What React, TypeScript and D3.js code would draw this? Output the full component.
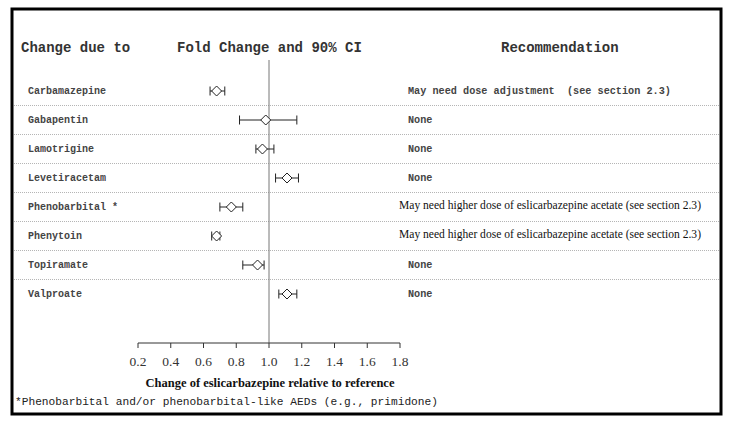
import React from "react";
import * as d3 from "d3";

const drugs = ["Carbamazepine", "Gabapentin", "Lamotrigine", "Levetiracetam", "Phenobarbital *", "Phenytoin", "Topiramate", "Valproate"];
const estimates = [0.68, 0.98, 0.96, 1.11, 0.77, 0.68, 0.93, 1.11];
const lowers = [0.64, 0.82, 0.92, 1.04, 0.70, 0.65, 0.84, 1.06];
const uppers = [0.73, 1.17, 1.03, 1.18, 0.84, 0.70, 0.97, 1.17];
const recommendations = [
  "May need dose adjustment  (see section 2.3)",
  "None",
  "None",
  "None",
  "May need higher dose of eslicarbazepine acetate (see section 2.3)",
  "May need higher dose of eslicarbazepine acetate (see section 2.3)",
  "None",
  "None",
];
const recSerif = [false, false, false, false, true, true, false, false];
const tickValues = [0.2, 0.4, 0.6, 0.8, 1.0, 1.2, 1.4, 1.6, 1.8];

const MONO = "'Liberation Mono', 'Courier New', monospace";
const SERIF = "'Liberation Serif', 'Times New Roman', serif";

export default function App() {
  const x = d3.scaleLinear().domain([0.2, 1.8]).range([138, 400]);
  const y = d3.scalePoint<string>().domain(drugs).range([91, 294]);
  const axisY = 343;
  const step = y.step();

  return (
    <svg width={732} height={426} style={{ position: "absolute", left: 0, top: 0, background: "#fff" }}>
      <rect x={0} y={0} width={732} height={426} fill="#fff" />
      <rect x={12} y={9} width={709} height={405} fill="none" stroke="#000" strokeWidth={3} />

      {/* headers */}
      <text x={21} y={52} fontFamily={MONO} fontSize={14} fontWeight="bold" fill="#333">Change due to</text>
      <text x={177} y={52} fontFamily={MONO} fontSize={14} fontWeight="bold" fill="#333">Fold Change and 90% CI</text>
      <text x={501} y={52} fontFamily={MONO} fontSize={14} fontWeight="bold" fill="#333">Recommendation</text>

      {/* separators */}
      {drugs.slice(0, -1).map((d) => (
        <line key={"s" + d} x1={14} x2={719} y1={(y(d) as number) + step / 2} y2={(y(d) as number) + step / 2}
          stroke="#b5b5b5" strokeWidth={1} strokeDasharray="1,1" />
      ))}

      {/* reference line */}
      <line x1={x(1)} x2={x(1)} y1={60} y2={axisY} stroke="#777" strokeWidth={1} />

      {/* rows */}
      {drugs.map((d, i) => {
        const cy = y(d) as number;
        const cx = x(estimates[i]);
        return (
          <g key={d}>
            <text x={28} y={cy + 3} fontFamily={MONO} fontSize={10} fontWeight="bold" fill="#444">{d}</text>
            <line x1={x(lowers[i])} x2={x(uppers[i])} y1={cy} y2={cy} stroke="#222" strokeWidth={1} />
            <line x1={x(lowers[i])} x2={x(lowers[i])} y1={cy - 4.5} y2={cy + 4.5} stroke="#222" strokeWidth={1} />
            <line x1={x(uppers[i])} x2={x(uppers[i])} y1={cy - 4.5} y2={cy + 4.5} stroke="#222" strokeWidth={1} />
            <path d={`M${cx - 5},${cy} L${cx},${cy - 5} L${cx + 5},${cy} L${cx},${cy + 5} Z`} fill="#fff" stroke="#222" strokeWidth={1} />
            {recSerif[i] ? (
              <text x={399} y={cy + 2} fontFamily={SERIF} fontSize={12} fill="#111" textLength={302} lengthAdjust="spacingAndGlyphs">{recommendations[i]}</text>
            ) : (
              <text x={408} y={cy + 3} fontFamily={MONO} fontSize={10.2} fontWeight="bold" fill="#444" style={{ whiteSpace: "pre" }}>{recommendations[i]}</text>
            )}
          </g>
        );
      })}

      {/* axis */}
      <line x1={x(0.2)} x2={x(1.8)} y1={axisY} y2={axisY} stroke="#333" strokeWidth={1} />
      {tickValues.map((t) => (
        <g key={t}>
          <line x1={x(t)} x2={x(t)} y1={axisY} y2={axisY + 5} stroke="#333" strokeWidth={1} />
          <text x={x(t)} y={366} textAnchor="middle" fontFamily={SERIF} fontSize={13.5} fill="#333">{t.toFixed(1)}</text>
        </g>
      ))}
      <text x={270} y={387} textAnchor="middle" fontFamily={SERIF} fontSize={12.5} fontWeight="bold" fill="#111">Change of eslicarbazepine relative to reference</text>
      <text x={15} y={405} fontFamily={MONO} fontSize={11.2} fill="#222">*Phenobarbital and/or phenobarbital-like AEDs (e.g., primidone)</text>
    </svg>
  );
}
